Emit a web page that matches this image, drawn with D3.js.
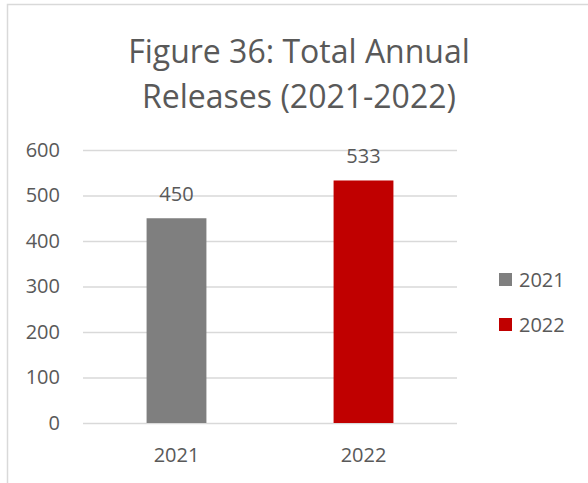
<!DOCTYPE html>
<html><head><meta charset="utf-8">
<script src="https://cdn.jsdelivr.net/npm/d3@7"></script>
<style>body{margin:0;background:#fff}svg{display:block}text{font-family:"Open Sans",sans-serif;fill:#595959}</style>
</head><body>
<script>
const categories = ["2021", "2022"];
const values = [450, 533];
const colors = ["#7f7f7f", "#c00000"];
const yTicks = [0, 100, 200, 300, 400, 500, 600];
const titleLines = ["Figure 36: Total Annual", "Releases (2021-2022)"];

const W = 588, H = 483;
const svg = d3.select("body").append("svg").attr("width", W).attr("height", H);
svg.append("rect").attr("x", 7.5).attr("y", 4.5).attr("width", W).attr("height", H)
  .attr("fill", "#fff").attr("stroke", "#d9d9d9").attr("stroke-width", 1.5);

const x = d3.scaleBand().domain(categories).range([83, 457]).paddingInner(0.68).paddingOuter(0.34);
const y = d3.scaleLinear().domain([0, 600]).range([423, 150]);

svg.append("g").selectAll("line").data(yTicks).join("line")
  .attr("x1", 83).attr("x2", 457).attr("y1", d => y(d) + 0.5).attr("y2", d => y(d) + 0.5)
  .attr("stroke", "#d9d9d9").attr("stroke-width", 1.3);

const yAxis = svg.append("g").attr("transform", "translate(68,0)")
  .call(d3.axisLeft(y).tickValues(yTicks).tickSize(0).tickPadding(8));
yAxis.select(".domain").remove();
yAxis.selectAll("text").attr("font-size", 20).style("font-family", '"Open Sans",sans-serif').attr("fill", "#595959");

const xAxis = svg.append("g").attr("transform", "translate(0,423)")
  .call(d3.axisBottom(x).tickSize(0).tickPadding(25));
xAxis.select(".domain").remove();
xAxis.selectAll("text").attr("font-size", 20).style("font-family", '"Open Sans",sans-serif').attr("fill", "#595959");

svg.append("g").selectAll("rect").data(values).join("rect")
  .attr("x", (d, i) => x(categories[i])).attr("width", x.bandwidth())
  .attr("y", d => y(d)).attr("height", d => y(0) - y(d))
  .attr("fill", (d, i) => colors[i]);

svg.append("g").selectAll("text").data(values).join("text")
  .attr("x", (d, i) => x(categories[i]) + x.bandwidth() / 2)
  .attr("y", d => y(d) - 17).attr("text-anchor", "middle")
  .attr("font-size", 20).text(d => d);

svg.append("g").selectAll("text").data(titleLines).join("text")
  .attr("x", 299).attr("y", (d, i) => 63 + i * 45).attr("text-anchor", "middle")
  .attr("font-size", 32).text(d => d);

const leg = svg.append("g").selectAll("g").data(categories).join("g")
  .attr("transform", (d, i) => `translate(499,${273 + i * 45})`);
leg.append("rect").attr("width", 13).attr("height", 13).attr("fill", (d, i) => colors[i]);
leg.append("text").attr("x", 20).attr("y", 14).attr("font-size", 20).text(d => d);
</script>
</body></html>
